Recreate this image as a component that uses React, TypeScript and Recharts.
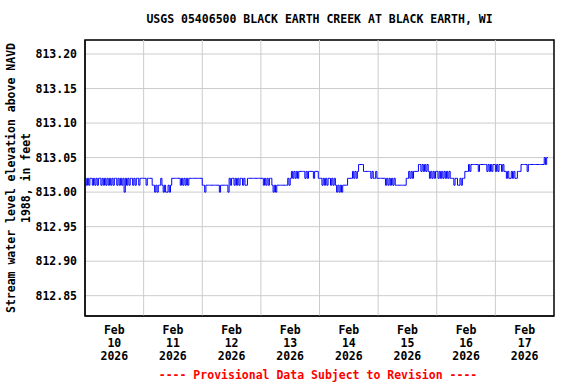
import React from 'react';
import { LineChart, Line, XAxis, YAxis, CartesianGrid, ReferenceLine, ReferenceArea } from 'recharts';

// Gage height readings, hundredths of a foot above 813.00, every 30 minutes (4-hour groups)
const BASE = 813.0;
const feb10 = ['21212212', '12122121', '21212121', '22121212', '02121221', '21221222'];
const feb11 = ['22122221', '10101121', '01001012', '22222212', '12121222', '22222222'];
const feb12 = ['11011111', '11111101', '11111021', '22121212', '21211222', '22222222'];
const feb13 = ['22121212', '21010111', '11111121', '23232323', '33332323', '33323332'];
const feb14 = ['22121212', '21212101', '01011112', '22232323', '44443333', '33232232'];
const feb15 = ['22222212', '12121211', '11111112', '23232333', '34434343', '43232323'];
const feb16 = ['32323232', '32322212', '21121223', '33434444', '44344444', '43434344'];
const feb17 = ['34344343', '32322323', '22333444', '44344444', '44444444', '5455'];
const days = [feb10, feb11, feb12, feb13, feb14, feb15, feb16, feb17];

const dayNumbers = ['10', '11', '12', '13', '14', '15', '16', '17'];
const monthLabel = 'Feb';
const yearLabel = '2026';
const yTicks = [812.85, 812.9, 812.95, 813.0, 813.05, 813.1, 813.15, 813.2];
const xDomain: [number, number] = [0, 192];
const yDomain: [number, number] = [812.8206, 813.2203];
const labelTicks = dayNumbers.map((_, i) => i * 24 + 12);
const midnights = [24, 48, 72, 96, 120, 144, 168];

const data: { t: number; v: number }[] = [];
days.forEach((groups, d) => {
  const s = groups.join('');
  for (let i = 0; i < s.length; i++) {
    data.push({ t: d * 24 + i * 0.5, v: +(BASE + Number(s[i]) / 100).toFixed(2) });
  }
});

const FONT = '"DejaVu Sans Mono", monospace';

const XTick = (props: any) => {
  const { x, y, payload } = props;
  const idx = labelTicks.indexOf(payload.value);
  return (
    <text x={x} y={y} textAnchor="middle" fontFamily={FONT} fontWeight="bold" fontSize={11.5} fill="#000">
      <tspan x={x} dy={18}>{monthLabel}</tspan>
      <tspan x={x} dy={13}>{dayNumbers[idx]}</tspan>
      <tspan x={x} dy={13}>{yearLabel}</tspan>
    </text>
  );
};

const YTitle = () => (
  <g>
    <text transform="translate(15,178) rotate(-90)" textAnchor="middle" fontFamily={FONT} fontWeight="bold" fontSize={11.5} fill="#000">
      Stream water level elevation above NAVD
    </text>
    <text transform="translate(30,178) rotate(-90)" textAnchor="middle" fontFamily={FONT} fontWeight="bold" fontSize={11.5} fill="#000">
      1988, in feet
    </text>
  </g>
);

export default function App() {
  return (
    <div style={{ position: 'absolute', left: 0, top: 0, width: 576, height: 384, background: '#fff' }}>
      <LineChart width={576} height={384} data={data} margin={{ top: 40, right: 22, bottom: 0, left: 0 }}>
        <CartesianGrid horizontal vertical={false} stroke="#cccccc" />
        {midnights.map((m) => (
          <ReferenceLine key={m} x={m} stroke="#cccccc" strokeWidth={1} />
        ))}
        <XAxis
          dataKey="t"
          type="number"
          domain={xDomain}
          ticks={labelTicks}
          interval={0}
          allowDataOverflow
          tick={<XTick />}
          tickLine={false}
          tickSize={0}
          tickMargin={0}
          axisLine={{ stroke: '#000' }}
          height={68}
        />
        <YAxis
          type="number"
          domain={yDomain}
          ticks={yTicks}
          interval={0}
          allowDataOverflow
          width={85}
          tickLine={false}
          tickSize={0}
          tickMargin={8}
          tickFormatter={(v: number) => v.toFixed(2)}
          tick={{ fontFamily: FONT, fontWeight: 'bold', fontSize: 11.5, fill: '#000' }}
          axisLine={{ stroke: '#000' }}
          label={{ content: () => <YTitle /> }}
        />
        <ReferenceArea
          x1={xDomain[0]}
          x2={xDomain[1]}
          y1={yDomain[0]}
          y2={yDomain[1]}
          fill="none"
          stroke="#000"
          strokeWidth={1.5}
          ifOverflow="visible"
        />
        <Line
          dataKey="v"
          type="stepAfter"
          stroke="#0000ff"
          strokeWidth={1}
          dot={false}
          isAnimationActive={false}
        />
      </LineChart>
      <svg width={576} height={384} style={{ position: 'absolute', left: 0, top: 0, pointerEvents: 'none' }}>
        <text x={319.5} y={23} textAnchor="middle" fontFamily={FONT} fontWeight="bold" fontSize={11.5} fill="#000">
          USGS 05406500 BLACK EARTH CREEK AT BLACK EARTH, WI
        </text>
        <text x={318} y={379} textAnchor="middle" fontFamily={FONT} fontWeight="bold" fontSize={11.5} fill="#ff0000">
          ---- Provisional Data Subject to Revision ----
        </text>
      </svg>
    </div>
  );
}
